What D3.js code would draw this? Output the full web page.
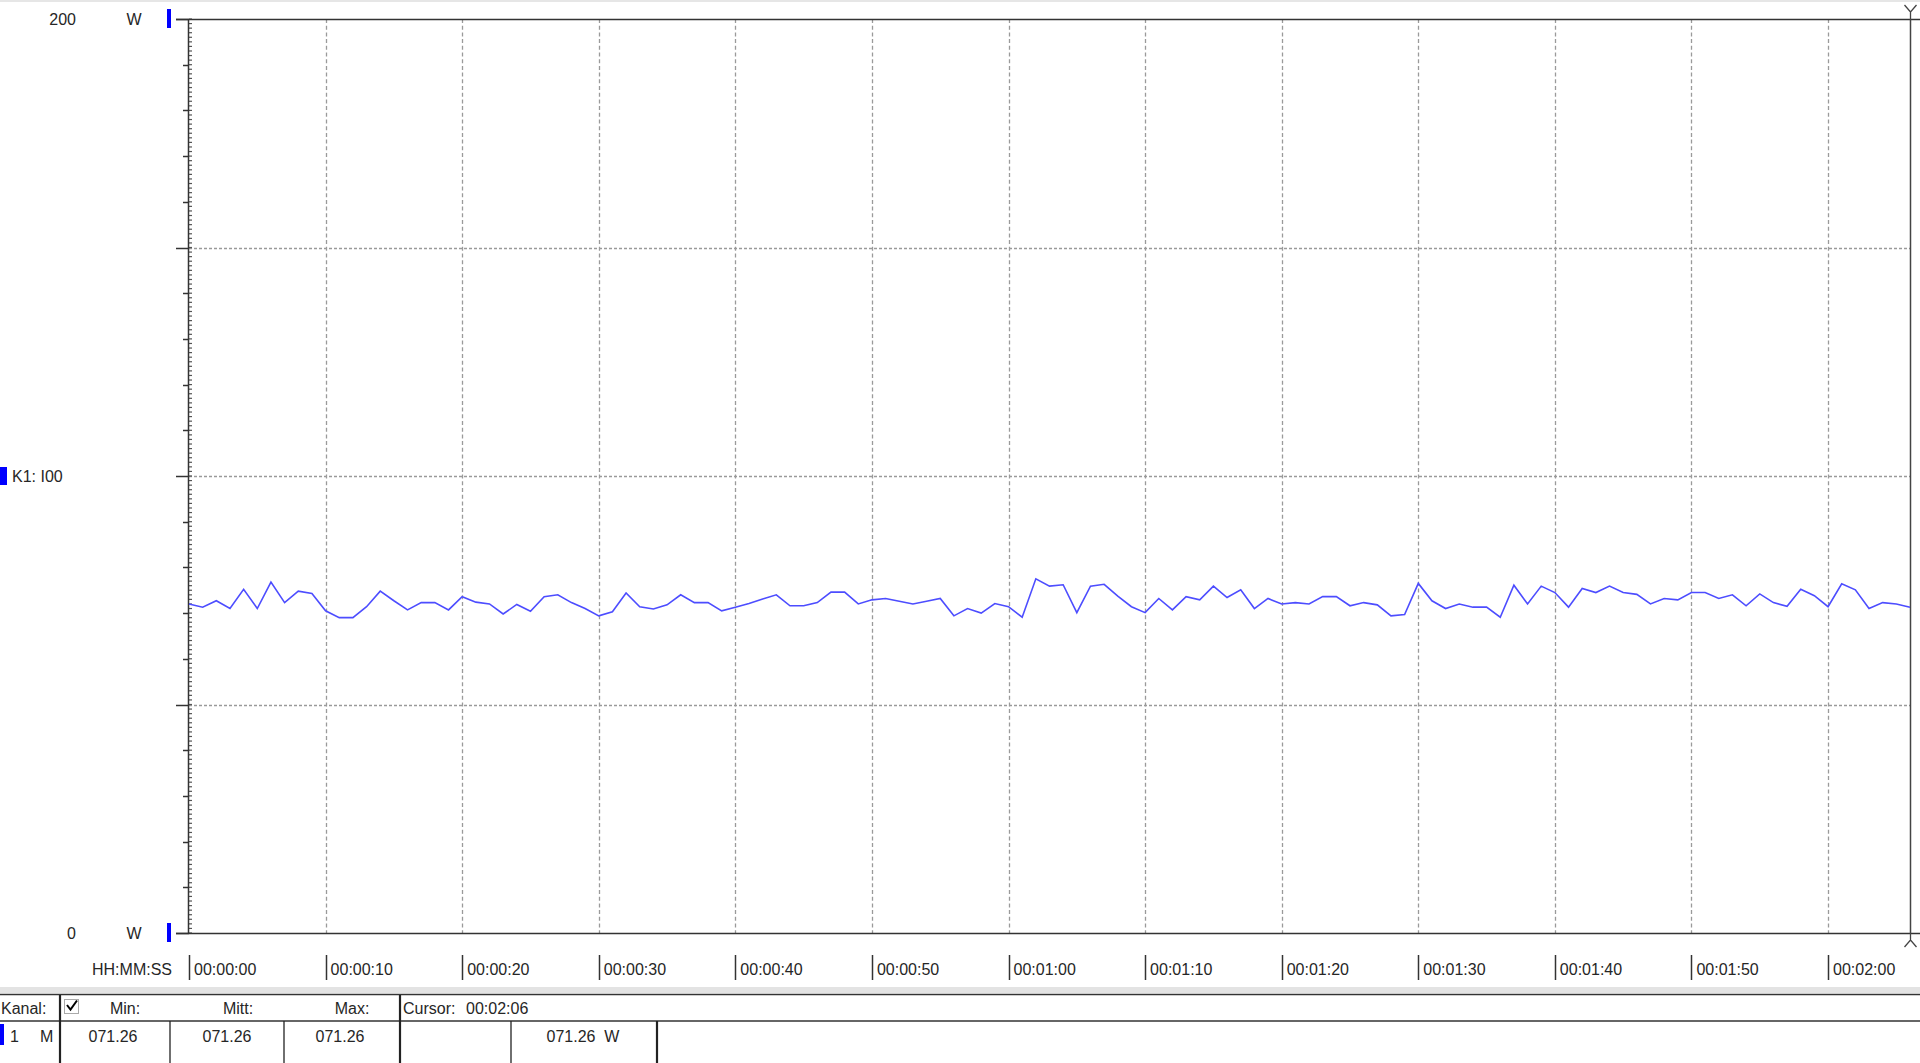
<!DOCTYPE html>
<html>
<head>
<meta charset="utf-8">
<script src="https://cdn.jsdelivr.net/npm/d3@7"></script>
<style>
  html, body { margin: 0; padding: 0; background: #fff; overflow: hidden; }
  svg { display: block; }
  text { font-family: "Liberation Sans", Arial, sans-serif; fill: #262626; }
</style>
</head>
<body>
<svg id="chart" width="1920" height="1063"></svg>
<script>
// ---- data ----
const powerValues = [
  72.0, 71.3, 72.7, 71.0, 75.2, 71.0, 76.8, 72.3, 74.8, 74.3,
  70.5, 69.0, 69.0, 71.4, 74.8, 72.7, 70.7, 72.3, 72.3, 70.7,
  73.6, 72.4, 72.0, 69.8, 71.9, 70.4, 73.6, 74.0, 72.3, 71.0,
  69.4, 70.3, 74.4, 71.4, 70.9, 71.8, 74.0, 72.3, 72.3, 70.5,
  71.3, 72.1, 73.1, 74.0, 71.6, 71.6, 72.3, 74.6, 74.6, 72.0,
  72.9, 73.2, 72.6, 72.0, 72.6, 73.2, 69.4, 71.0, 70.0, 72.1,
  71.4, 69.1, 77.5, 75.9, 76.2, 70.1, 75.9, 76.3, 73.7, 71.4,
  70.1, 73.2, 70.7, 73.6, 72.9, 75.9, 73.4, 75.1, 71.0, 73.2,
  72.0, 72.3, 72.0, 73.6, 73.6, 71.6, 72.3, 71.8, 69.4, 69.7,
  76.5, 72.7, 71.0, 72.0, 71.3, 71.3, 69.1, 76.1, 72.0, 75.9,
  74.5, 71.3, 75.4, 74.5, 75.9, 74.5, 74.1, 72.0, 73.2, 72.9,
  74.5, 74.5, 73.2, 74.0, 71.6, 74.2, 72.3, 71.5, 75.2, 73.8,
  71.4, 76.4, 75.1, 71.0, 72.3, 72.0, 71.3
];
const timeTickSeconds = [0, 10, 20, 30, 40, 50, 60, 70, 80, 90, 100, 110, 120];
const timeTickLabels = ["00:00:00", "00:00:10", "00:00:20", "00:00:30", "00:00:40", "00:00:50",
  "00:01:00", "00:01:10", "00:01:20", "00:01:30", "00:01:40", "00:01:50", "00:02:00"];
const yDomain = [0, 200];
const yMajorTicks = [0, 50, 100, 150, 200];
const cursorSecond = 126;
const tableHeaders = ["Min:", "Mitt:", "Max:"];
const tableValues = ["071.26", "071.26", "071.26"];
const cursorLabel = "00:02:06";
const cursorValue = "071.26";
const unit = "W";
const channelLabel = "K1: I00";

// ---- layout ----
const svg = d3.select("#chart");
const L = 189, R = 1910, T = 19, B = 933;
const x = d3.scaleLinear().domain([0, cursorSecond]).range([L, R]);
const y = d3.scaleLinear().domain(yDomain).range([B, T]);

// top band
svg.append("rect").attr("x", 0).attr("y", 0).attr("width", 1920).attr("height", 2).attr("fill", "#e6e6e6");

// gridlines
const grid = svg.append("g");
grid.selectAll("line.v").data(timeTickSeconds.filter(d => d > 0)).enter().append("line")
  .attr("x1", d => Math.round(x(d)) + 0.5).attr("x2", d => Math.round(x(d)) + 0.5)
  .attr("y1", T).attr("y2", B)
  .attr("stroke", "#9a9a9a").attr("stroke-width", 1.3).attr("stroke-dasharray", "4,2.7");
grid.selectAll("line.h").data(yMajorTicks.filter(d => d > 0 && d < 200)).enter().append("line")
  .attr("x1", L).attr("x2", R)
  .attr("y1", d => Math.round(y(d)) + 0.5).attr("y2", d => Math.round(y(d)) + 0.5)
  .attr("stroke", "#9a9a9a").attr("stroke-width", 1.3).attr("stroke-dasharray", "3,2");

// Y axis fine ticks (right side)
const fine = d3.range(yDomain[0], yDomain[1] + 1, 1);
svg.append("g").selectAll("line").data(fine).enter().append("line")
  .attr("x1", L).attr("x2", L + 3)
  .attr("y1", d => y(d)).attr("y2", d => y(d))
  .attr("stroke", "#555").attr("stroke-width", 1.2);
// Y axis minor ticks (left side, every 10)
const minor = d3.range(yDomain[0], yDomain[1] + 1, 10);
svg.append("g").selectAll("line").data(minor).enter().append("line")
  .attr("x1", d => yMajorTicks.includes(d) ? 176 : 183).attr("x2", L)
  .attr("y1", d => Math.round(y(d)) + 0.5).attr("y2", d => Math.round(y(d)) + 0.5)
  .attr("stroke", "#333").attr("stroke-width", 1.5);

// Y axis line
svg.append("line").attr("x1", L - 0.5).attr("x2", L - 0.5).attr("y1", T).attr("y2", B)
  .attr("stroke", "#333").attr("stroke-width", 1.5);
// top and bottom frame lines
svg.append("line").attr("x1", 176).attr("x2", 1920).attr("y1", T + 0.5).attr("y2", T + 0.5)
  .attr("stroke", "#333").attr("stroke-width", 1.5);
svg.append("line").attr("x1", 176).attr("x2", 1920).attr("y1", B + 0.5).attr("y2", B + 0.5)
  .attr("stroke", "#333").attr("stroke-width", 1.5);

// cursor line + markers
const cx = Math.round(x(cursorSecond)) + 0.5;
svg.append("line").attr("x1", cx).attr("x2", cx).attr("y1", T).attr("y2", B)
  .attr("stroke", "#444").attr("stroke-width", 1.5);
svg.append("path").attr("d", `M${cx - 6},${T - 14} L${cx},${T - 7} L${cx + 6},${T - 14} M${cx},${T - 7} L${cx},${T}`)
  .attr("stroke", "#444").attr("stroke-width", 1.3).attr("fill", "none");
svg.append("path").attr("d", `M${cx - 6},${B + 14} L${cx},${B + 7} L${cx + 6},${B + 14} M${cx},${B + 7} L${cx},${B}`)
  .attr("stroke", "#444").attr("stroke-width", 1.3).attr("fill", "none");

// data line
const line = d3.line().x((d, i) => x(i)).y(d => y(d));
svg.append("path").datum(powerValues).attr("d", line)
  .attr("fill", "none").attr("stroke", "#4d4dff").attr("stroke-width", 1.6)
  .attr("stroke-linejoin", "miter");

// Y labels
const fs = 16;
svg.append("text").attr("x", 76).attr("y", y(200)).attr("dy", "0.35em").attr("text-anchor", "end")
  .attr("font-size", fs).text(String(yDomain[1]));
svg.append("text").attr("x", 76).attr("y", y(0)).attr("dy", "0.35em").attr("text-anchor", "end")
  .attr("font-size", fs).text(String(yDomain[0]));
[yDomain[1], yDomain[0]].forEach(v => {
  svg.append("text").attr("x", 134).attr("y", y(v)).attr("dy", "0.35em").attr("text-anchor", "middle")
    .attr("font-size", fs).text(unit);
  svg.append("rect").attr("x", 167).attr("y", y(v) - 10).attr("width", 4).attr("height", 19).attr("fill", "#0000ff");
});
svg.append("rect").attr("x", 0).attr("y", y(100) - 9).attr("width", 7).attr("height", 18).attr("fill", "#0000ff");
svg.append("text").attr("x", 12).attr("y", y(100)).attr("dy", "0.35em").attr("font-size", fs).text(channelLabel);

// X labels
svg.append("text").attr("x", 172).attr("y", 969).attr("dy", "0.35em").attr("text-anchor", "end")
  .attr("font-size", fs).text("HH:MM:SS");
const xt = svg.append("g").selectAll("g").data(timeTickSeconds).enter().append("g");
xt.append("line").attr("x1", d => Math.round(x(d)) + 0.5).attr("x2", d => Math.round(x(d)) + 0.5)
  .attr("y1", 955).attr("y2", 980).attr("stroke", "#333").attr("stroke-width", 1.5);
xt.append("text").attr("x", d => x(d) + 5).attr("y", 969).attr("dy", "0.35em")
  .attr("font-size", fs).text((d, i) => timeTickLabels[i]);

// bottom panel
svg.append("rect").attr("x", 0).attr("y", 987).attr("width", 1920).attr("height", 6).attr("fill", "#e3e3e3");
svg.append("line").attr("x1", 0).attr("x2", 1920).attr("y1", 994.5).attr("y2", 994.5).attr("stroke", "#333").attr("stroke-width", 1.5);
svg.append("line").attr("x1", 0).attr("x2", 1920).attr("y1", 1021).attr("y2", 1021).attr("stroke", "#333").attr("stroke-width", 1.5);
// vertical separators
[[60, 995, 1063, 2.2], [400, 995, 1063, 2.2], [170, 1021, 1063, 1.3], [284, 1021, 1063, 1.3],
 [511, 1021, 1063, 1.3], [657, 1021, 1063, 2.2]].forEach(([vx, y1, y2, w]) => {
  svg.append("line").attr("x1", vx).attr("x2", vx).attr("y1", y1).attr("y2", y2)
    .attr("stroke", "#222").attr("stroke-width", w);
});
svg.append("text").attr("x", 1).attr("y", 1008).attr("dy", "0.35em").attr("font-size", fs).text("Kanal:");
// checkbox
svg.append("rect").attr("x", 64.5).attr("y", 999.5).attr("width", 14).attr("height", 14)
  .attr("fill", "#fff").attr("stroke", "#aaa").attr("stroke-width", 1);
svg.append("path").attr("d", "M67,1005 L70.5,1009.5 L77,1000.5").attr("fill", "none")
  .attr("stroke", "#000").attr("stroke-width", 2);
const colCenters = [125, 238, 352];
svg.append("g").selectAll("text").data(tableHeaders).enter().append("text")
  .attr("x", (d, i) => colCenters[i]).attr("y", 1008).attr("dy", "0.35em").attr("text-anchor", "middle")
  .attr("font-size", fs).text(d => d);
const valCenters = [113, 227, 340];
svg.append("g").selectAll("text").data(tableValues).enter().append("text")
  .attr("x", (d, i) => valCenters[i]).attr("y", 1036).attr("dy", "0.35em").attr("text-anchor", "middle")
  .attr("font-size", fs).text(d => d);
svg.append("text").attr("x", 403).attr("y", 1008).attr("dy", "0.35em").attr("font-size", fs).text("Cursor:");
svg.append("text").attr("x", 466).attr("y", 1008).attr("dy", "0.35em").attr("font-size", fs).text(cursorLabel);
svg.append("text").attr("x", 583).attr("y", 1036).attr("dy", "0.35em").attr("text-anchor", "middle")
  .attr("font-size", fs).attr("xml:space", "preserve").text(cursorValue + "  " + unit);
svg.append("rect").attr("x", 0).attr("y", 1024).attr("width", 4).attr("height", 21).attr("fill", "#0000ff");
svg.append("text").attr("x", 10).attr("y", 1036).attr("dy", "0.35em").attr("font-size", fs).text("1");
svg.append("text").attr("x", 40).attr("y", 1036).attr("dy", "0.35em").attr("font-size", fs).text("M");
</script>
</body>
</html>
